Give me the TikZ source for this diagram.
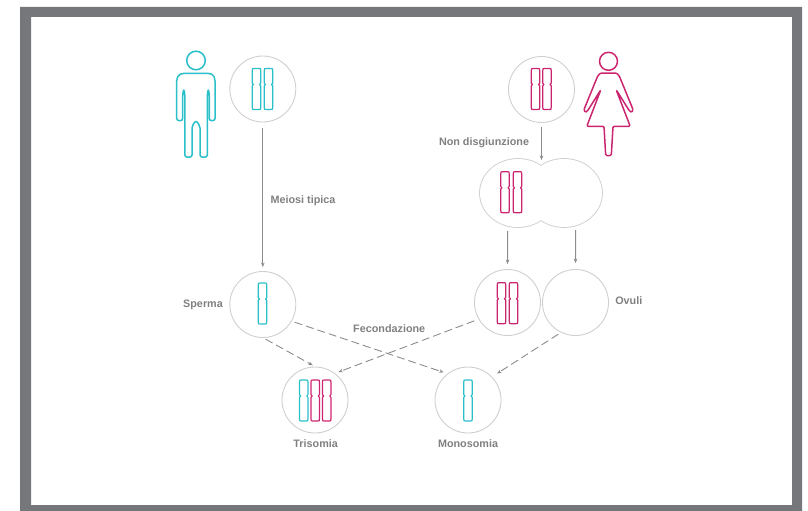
\documentclass[tikz,border=0pt]{standalone}
\usepackage{fontspec}
\setmainfont{Liberation Sans}
\usetikzlibrary{arrows.meta}
\definecolor{bordergray}{HTML}{76777B}
\definecolor{cyanc}{HTML}{2BBFC9}
\definecolor{magc}{HTML}{CC2570}
\definecolor{ringgray}{HTML}{CFCFCF}
\definecolor{arrowgray}{HTML}{8C8C8C}
\definecolor{textgray}{HTML}{808080}
\begin{document}
\begin{tikzpicture}[x=1pt,y=-1pt,
  ring/.style={circle,draw=ringgray,line width=0.9pt,inner sep=0pt,minimum size=66pt},
  lab/.style={font=\fontsize{10.8}{12}\selectfont\bfseries,text=textgray,anchor=base,inner sep=0pt},
  flow/.style={draw=arrowgray,line width=0.9pt,-{Stealth[length=4.5pt,width=3.6pt]}},
  fert/.style={flow,dash pattern=on 8pt off 4pt},
  figline/.style={line width=1.5pt,line join=round},
  chromo/.pic={
    \draw[line width=1.2pt,line join=round]
      (-4.2,14.7) -- (-4.2,2) .. controls (-4.2,0) .. (-2.2,0) -- (2.2,0)
      .. controls (4.2,0) .. (4.2,2) -- (4.2,14.7) -- (3,16) -- (4.2,17.3)
      -- (4.2,39) .. controls (4.2,41) .. (2.2,41) -- (-2.2,41)
      .. controls (-4.2,41) .. (-4.2,39) -- (-4.2,17.3) -- (-3,16) -- cycle;
  }
]
\useasboundingbox (0,0) rectangle (808,511);
\fill[bordergray,even odd rule] (20,7) rectangle (802,516) (31,17) rectangle (792,505);

% male figure
\draw[figline,cyanc] (196,60.5) circle[radius=9.3pt];
\draw[figline,cyanc,rounded corners=2pt] (196,120.5) -- (200,126) -- (200,157) -- (207.3,157) -- (207.3,94) -- (208.3,89) -- (209.3,94) -- (209.3,120.5) -- (215,120.5) -- (215,79) -- (213.5,75) -- (209.5,73.3) -- (182.5,73.3) -- (178.5,75) -- (176.7,79) -- (176.7,120.5) -- (182.7,120.5) -- (182.7,94) -- (183.8,89) -- (184.9,94) -- (184.9,157) -- (192,157) -- (192,126) -- cycle;

% female figure
\draw[figline,magc] (608.5,61.3) circle[radius=9pt];
\draw[figline,magc,rounded corners=1.2pt] (600.5,73) -- (616.5,73) -- (619.3,76) -- (633,109.5) -- (631.8,112.5) -- (629.5,111) -- (616.2,89.8) -- (630.2,126.3) -- (613,126.3) -- (611.3,155.5) -- (605.7,155.5) -- (604,126.3) -- (586.8,126.3) -- (600.8,89.8) -- (587.5,111) -- (585.2,112.5) -- (584,109.5) -- (597.7,76) -- cycle;

% cells
\node[ring] (male) at (262.8,89) {};
\node[ring] (female) at (541.5,89.5) {};
\node[ring] (sperm) at (262.8,304.5) {};
\node[ring] (ovA) at (507.5,302.5) {};
\node[ring] (ovB) at (575.5,302.5) {};
\node[ring] (tri) at (315,400) {};
\node[ring] (mono) at (468,400) {};

% dividing cell
\coordinate (cell) at (541,193);
\draw[ringgray,line width=1.8pt] (518,193) ellipse[x radius=38pt,y radius=34pt];
\draw[ringgray,line width=1.8pt] (564,193) ellipse[x radius=38pt,y radius=34pt];
\fill[white] (518,193) ellipse[x radius=38pt,y radius=34pt];
\fill[white] (564,193) ellipse[x radius=38pt,y radius=34pt];

% chromosomes
\pic[color=cyanc] at (256.5,68.5) {chromo};
\pic[color=cyanc] at (268.5,68.5) {chromo};
\pic[color=magc] at (535.5,68.5) {chromo};
\pic[color=magc] at (547,68.5) {chromo};
\pic[color=magc] at (505,171.7) {chromo};
\pic[color=magc] at (517.5,171.7) {chromo};
\pic[color=magc] at (501.5,282.7) {chromo};
\pic[color=magc] at (513.5,282.7) {chromo};
\pic[color=cyanc] at (262.5,283) {chromo};
\pic[color=cyanc] at (303.7,380) {chromo};
\pic[color=magc] at (315.2,380) {chromo};
\pic[color=magc] at (326.7,380) {chromo};
\pic[color=cyanc] at (468,380) {chromo};

% solid arrows
\coordinate (celltop) at (541.5,160);
\coordinate (cellA) at (507.6,231);
\coordinate (cellB) at (575.6,230);
\draw[flow,shorten <=6pt,shorten >=4pt] (male) -- (sperm);
\draw[flow,shorten <=4.5pt] (female) -- (celltop);
\draw[flow,shorten >=5pt] (cellA) -- (ovA);
\draw[flow,shorten >=6pt] (cellB) -- (ovB);

% dashed arrows
\draw[fert,shorten <=2.5pt,shorten >=2.5pt] (sperm.-89) -- (tri.90);
\draw[fert,shorten <=3pt,shorten >=4pt] (sperm.-30) -- (mono.128);
\draw[fert,shorten <=4.5pt,shorten >=3.5pt] (ovA.210.6) -- (tri.53.5);
\draw[fert,shorten <=3pt,shorten >=6pt] (ovB.244.5) -- (mono.44.3);

% labels
\node[lab] (lmei) at (303,203) {Meiosi tipica};
\node[lab] (lnon) at (484,145.5) {Non disgiunzione};
\node[lab] (lsper) at (203,307) {Sperma};
\node[lab] (lov) at (628.8,304.3) {Ovuli};
\node[lab] (lfec) at (389.2,332) {Fecondazione};
\node[lab] (ltri) at (315.7,447.7) {Trisomia};
\node[lab] (lmono) at (468,447.7) {Monosomia};
\end{tikzpicture}
\end{document}
